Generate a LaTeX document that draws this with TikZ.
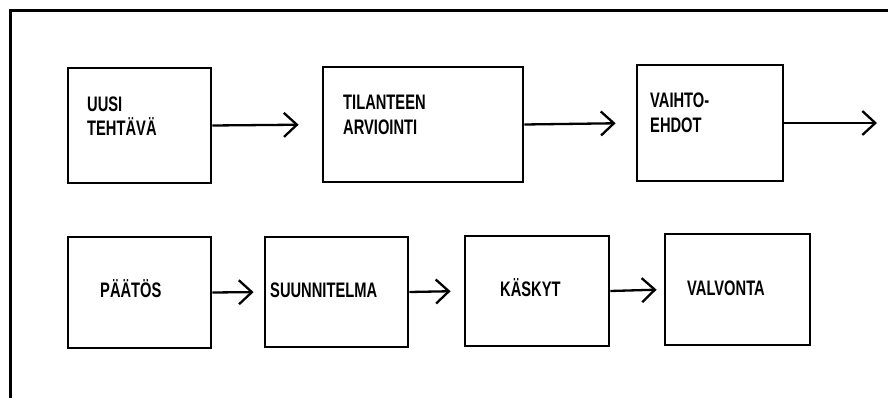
\documentclass[tikz,border=0pt]{standalone}
\usepackage{fontspec}
\setmainfont{Liberation Sans}[FakeStretch=0.70]
\usetikzlibrary{arrows.meta}
\begin{document}
\begin{tikzpicture}[x=1pt,y=-1pt,
  box/.style={draw,line width=2.8pt,inner sep=0pt,minimum width=#1},
  lbl/.style={anchor=base west,inner sep=0pt,font=\fontsize{21}{24}\selectfont\bfseries},
  arr/.style={line width=2.3pt,-{Straight Barb[length=13pt,width=24pt,line width=2.3pt]}}]
\useasboundingbox (0,0) rectangle (888,398);
% outer frame (open to right and bottom)
\draw[line width=3pt] (10,398) -- (10,11) -- (888,11);
% row 1
\node[box=143pt,minimum height=115pt] (b1) at (139.5,125.5) {};
\node[box=200pt,minimum height=115pt] (b2) at (423,124.5) {};
\node[box=146pt,minimum height=116pt] (b3) at (710,123) {};
\coordinate (e3) at (877,123);
% row 2
\node[box=143pt,minimum height=111pt] (b4) at (139.5,292.5) {};
\node[box=143pt,minimum height=110pt] (b5) at (336.5,292) {};
\node[box=144pt,minimum height=110pt] (b6) at (537,291) {};
\node[box=145pt,minimum height=111pt] (b7) at (737.5,289.5) {};
% labels
\node[lbl] (t1a) at (87,112) {UUSI};
\node[lbl] (t1b) at (87,136) {TEHTÄVÄ};
\node[lbl] (t2a) at (343,110) {TILANTEEN};
\node[lbl] (t2b) at (343,135) {ARVIOINTI};
\node[lbl] (t3a) at (650,108) {VAIHTO-};
\node[lbl] (t3b) at (650,133) {EHDOT};
\node[lbl] (t4) at (100,297) {PÄÄTÖS};
\node[lbl] (t5) at (270,297) {SUUNNITELMA};
\node[lbl] (t6) at (500,296) {KÄSKYT};
\node[lbl] (t7) at (687,295) {VALVONTA};
% arrows
\draw[arr,shorten >=23pt] (b1.east) -- (b2.west);
\draw[arr,shorten >=20pt] (b2.east) -- (b3.west);
\draw[arr] (b3.east) -- (e3);
\draw[arr,shorten >=10pt] (b4.east) -- (b5.west);
\draw[arr,shorten >=13pt] (b5.east) -- (b6.west);
\draw[arr,shorten >=7pt] (b6.east) -- (b7.west);
\end{tikzpicture}
\end{document}
